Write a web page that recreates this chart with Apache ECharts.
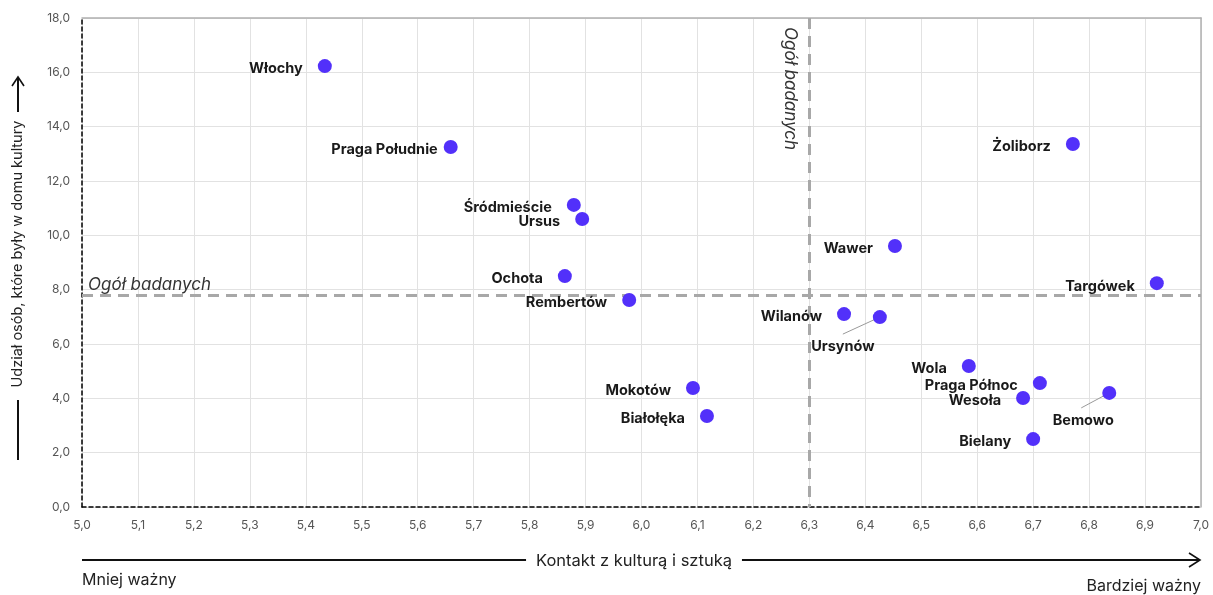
<!DOCTYPE html>
<html><head><meta charset="utf-8">
<script src="https://cdn.jsdelivr.net/npm/echarts@6/dist/echarts.min.js"></script>
<style>html,body{margin:0;padding:0;background:#fff}#c{width:1213px;height:595px}</style>
</head><body><div id="c"></div>
<script>
const districts = ['Włochy','Praga Południe','Śródmieście','Ursus','Ochota','Rembertów','Mokotów','Białołęka','Wilanów','Ursynów','Wawer','Żoliborz','Targówek','Wola','Praga Północ','Wesoła','Bemowo','Bielany'];
const contactValues = [5.434,5.659,5.879,5.894,5.863,5.978,6.092,6.117,6.362,6.426,6.453,6.771,6.921,6.585,6.712,6.682,6.836,6.700];
const shareValues = [16.23,13.25,11.12,10.60,8.50,7.62,4.38,3.35,7.10,6.99,9.61,13.36,8.24,5.19,4.56,4.01,4.20,2.50];
const avgContact = 6.3;
const avgShare = 7.8;
const xTicks = [5.0,7.0,0.1];
const yTicks = [0,18,2];
const xTitle = 'Kontakt z kulturą i sztuką';
const yTitle = 'Udział osób, które były w domu kultury';
const refLabel = 'Ogół badanych';
const lowLabel = 'Mniej ważny';
const highLabel = 'Bardziej ważny';

const FONT = 'Inter, "Noto Sans", sans-serif';
// label placement (pixel offsets of label centre / leader line end from the point)
const moved = { 'Ursynów': {label:[-37,30], line:[-37,17]}, 'Bemowo': {label:[-26,28], line:[-28,15]} };
const nearLabels = { 'Praga Południe': 6 };
const fmt = v => Number(v).toFixed(1).replace('.', ',');

const chart = echarts.init(document.getElementById('c'), null, {renderer:'canvas'});
const data = districts.map((n,i)=>{
  const d = {name:n, value:[contactValues[i], shareValues[i]]};
  if (nearLabels[n] !== undefined) d.label = {distance: nearLabels[n]};
  return d;
});

const baseGraphic = [
  {type:'line',shape:{x1:82,y1:560,x2:1200,y2:560},style:{stroke:'#111',lineWidth:2}},
  {type:'polyline',shape:{points:[[1189,553],[1200,560],[1189,567]]},style:{stroke:'#111',lineWidth:1.6,fill:null}},
  {type:'text',x:634,y:561,style:{text:xTitle,fill:'#222',font:'16.5px '+FONT,align:'center',verticalAlign:'middle',backgroundColor:'#fff',padding:[2,10]}},
  {type:'text',x:82,y:580,style:{text:lowLabel,fill:'#222',font:'16px '+FONT,align:'left',verticalAlign:'middle'}},
  {type:'text',x:1201,y:586,style:{text:highLabel,fill:'#222',font:'16px '+FONT,align:'right',verticalAlign:'middle'}},
  {type:'line',shape:{x1:18,y1:400,x2:18,y2:460},style:{stroke:'#111',lineWidth:2}},
  {type:'line',shape:{x1:18,y1:78,x2:18,y2:112},style:{stroke:'#111',lineWidth:2}},
  {type:'polyline',shape:{points:[[12,86],[18,77],[24,86]]},style:{stroke:'#111',lineWidth:1.6,fill:null}},
  {type:'text',x:18,y:254,rotation:Math.PI/2,style:{text:yTitle,fill:'#222',font:'14.5px '+FONT,align:'center',verticalAlign:'middle'}}
];

chart.setOption({
  animation:false,
  textStyle:{fontFamily:FONT},
  grid:{left:82,right:12,top:18,bottom:88},
  xAxis:[{
    type:'value', min:xTicks[0], max:xTicks[1], interval:xTicks[2],
    axisLine:{show:true,onZero:false,lineStyle:{color:'#000',type:[4,3],width:1.5}},
    axisTick:{show:false},
    axisLabel:{formatter:fmt,color:'#555',fontSize:12,margin:12,fontFamily:FONT},
    splitLine:{show:true,lineStyle:{color:'#e2e2e2',width:1}}
  },{
    type:'value', position:'top', min:xTicks[0], max:xTicks[1],
    axisLine:{show:true,onZero:false,lineStyle:{color:'#b0b0b0',width:1.5}},
    axisTick:{show:false},axisLabel:{show:false},splitLine:{show:false}
  }],
  yAxis:[{
    type:'value', min:yTicks[0], max:yTicks[1], interval:yTicks[2],
    axisLine:{show:true,onZero:false,lineStyle:{color:'#000',type:[4,3],width:1.5}},
    axisTick:{show:false},
    axisLabel:{formatter:fmt,color:'#555',fontSize:12,margin:12,fontFamily:FONT},
    splitLine:{show:true,lineStyle:{color:'#e2e2e2',width:1}}
  },{
    type:'value', position:'right', min:yTicks[0], max:yTicks[1],
    axisLine:{show:true,onZero:false,lineStyle:{color:'#b0b0b0',width:1.5}},
    axisTick:{show:false},axisLabel:{show:false},splitLine:{show:false}
  }],
  series:[{
    type:'scatter',
    symbolSize:14,
    z:5,
    itemStyle:{color:'#5230fa',opacity:1},
    data:data,
    label:{show:true,position:'left',distance:15,formatter:'{b}',color:'#1a1a1a',fontWeight:'bold',fontSize:14.5,fontFamily:FONT},
    labelLayout:function(p){
      const m = moved[districts[p.dataIndex]];
      if (m) {
        return {x: p.rect.x + p.rect.width/2 + m.label[0], y: p.rect.y + p.rect.height/2 + m.label[1], align:'center', verticalAlign:'middle'};
      }
      return {dy:3};
    },
    markLine:{
      silent:true, symbol:'none', z:3,
      lineStyle:{color:'#a8a8a8',type:[11,7],width:3},
      data:[
        [{coord:[xTicks[0],avgShare]},{coord:[xTicks[1],avgShare],label:{show:true,position:'insideStartTop',formatter:refLabel,color:'#333',fontStyle:'italic',fontSize:17,distance:[6,2],fontFamily:FONT}}],
        [{coord:[avgContact,yTicks[1]]},{coord:[avgContact,yTicks[0]],label:{show:true,position:'insideStartBottom',formatter:refLabel,color:'#333',fontStyle:'italic',fontSize:17,distance:[9,11],fontFamily:FONT}}]
      ]
    }
  }],
  graphic:baseGraphic
});

// leader lines for moved labels, anchored at the data points via the chart's scales
const leaders = [];
districts.forEach((n,i)=>{
  const m = moved[n];
  if (!m) return;
  const p = chart.convertToPixel({gridIndex:0}, [contactValues[i], shareValues[i]]);
  leaders.push({type:'line',z:1,shape:{x1:p[0],y1:p[1],x2:p[0]+m.line[0],y2:p[1]+m.line[1]},style:{stroke:'#999',lineWidth:1}});
});
chart.setOption({graphic:baseGraphic.concat(leaders)});
</script></body></html>
